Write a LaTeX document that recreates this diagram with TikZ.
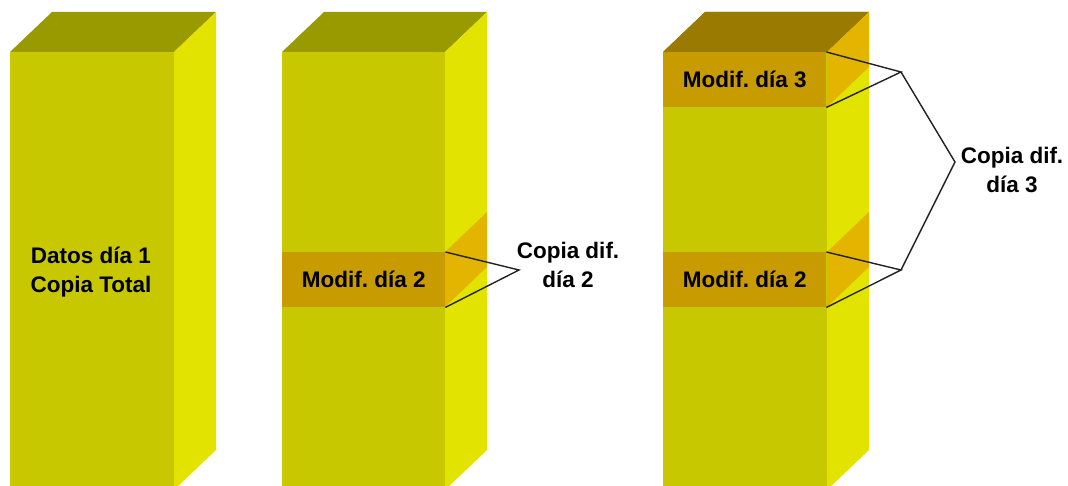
\documentclass[tikz,border=0pt]{standalone}
\usepackage{fontspec}
\setmainfont{Liberation Sans}
\frenchspacing
\definecolor{yfront}{HTML}{C8C800}
\definecolor{yside}{HTML}{E3E300}
\definecolor{ytop}{HTML}{999900}
\definecolor{ofront}{HTML}{C89B00}
\definecolor{oside}{HTML}{E3B400}
\definecolor{otop}{HTML}{9A7A00}
\definecolor{conn}{HTML}{222222}
\begin{document}
\begin{tikzpicture}[x=1pt,y=-1pt,
  lbl/.style={font=\fontsize{22.5}{28.5}\selectfont\bfseries, align=center, text=black, inner sep=0pt},
  bandbox/.style={fill=ofront, minimum width=163pt, minimum height=55pt, inner sep=0pt, anchor=north west,
     font=\fontsize{22.5}{28.5}\selectfont\bfseries},
  connector/.style={draw=conn, line width=1.4pt}]
\useasboundingbox (0,0) rectangle (1068,486);
\clip (0,0) rectangle (1068,486);
% columns: front left x, front right x
\foreach \xl/\xr in {10/174, 282/445, 663/827}{
  \fill[yfront] (\xl,52) rectangle (\xr,490);
  \fill[ytop] (\xl,52) -- (\xl+42,12) -- (\xr+42,12) -- (\xr,52) -- cycle;
  \fill[yside] (\xr,52) -- (\xr+42,12) -- (\xr+42,450) -- (\xr,490) -- cycle;
}
% column 1 text
\node[lbl] (t1) at (91,272) {Datos día 1\\Copia Total};
% column 2 band
\fill[oside] (445,252) -- (487,212) -- (487,267) -- (445,307) -- cycle;
\node[bandbox] (b2) at (282,252) {Modif. día 2};
% column 3 bands
\fill[otop] (663,52) -- (705,12) -- (869,12) -- (827,52) -- cycle;
\fill[oside] (827,52) -- (869,12) -- (869,67) -- (827,107) -- cycle;
\node[bandbox] (b3top) at (663,52) {Modif. día 3};
\fill[oside] (827,252) -- (869,212) -- (869,267) -- (827,307) -- cycle;
\node[bandbox] (b3low) at (663,252) {Modif. día 2};
% labels
\node[lbl] (c2) at (568,265) {Copia dif.\\día 2};
\node[lbl] (c3) at (1012,170) {Copia dif.\\día 3};
% connectors
\coordinate (a2) at (519,270);
\coordinate (a3u) at (901,72);
\coordinate (a3m) at (955,162);
\coordinate (a3l) at (901,270);
\draw[connector] (b2.north east) -- (a2) -- (b2.south east);
\draw[connector] (b3top.north east) -- (a3u) -- (b3top.south east);
\draw[connector] (b3low.north east) -- (a3l) -- (b3low.south east);
\draw[connector] (a3u) -- (a3m) -- (a3l);
\end{tikzpicture}
\end{document}
